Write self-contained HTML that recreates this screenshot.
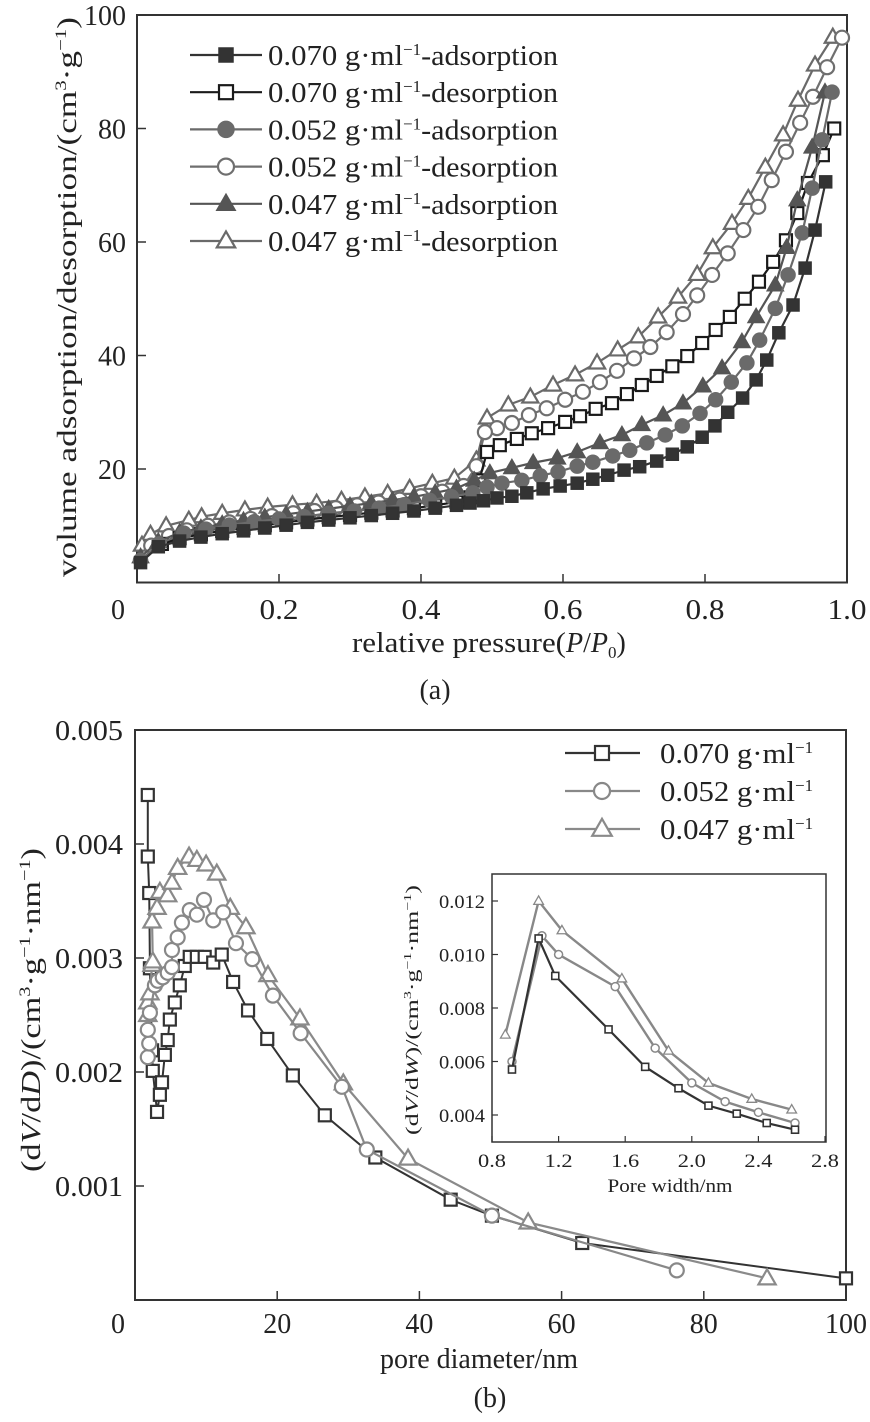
<!DOCTYPE html>
<html><head><meta charset="utf-8"><style>
html,body{margin:0;padding:0;background:#fff;}
svg{display:block;font-family:"Liberation Serif",serif;}
</style></head><body>
<svg id="s" width="870" height="1422" viewBox="0 0 870 1422" xmlns="http://www.w3.org/2000/svg"></svg>
<script>
// ---------- Chart (a) data ----------
const a1 = [[0.005,3.5],[0.03,6.3],[0.06,7.3],[0.09,8.0],[0.12,8.6],[0.15,9.1],[0.18,9.6],[0.21,10.1],[0.24,10.6],[0.27,11.0],[0.30,11.4],[0.33,11.8],[0.36,12.2],[0.39,12.6],[0.42,13.1],[0.45,13.6],[0.469,14.0],[0.488,14.4],[0.507,14.9],[0.528,15.2],[0.549,15.8],[0.572,16.5],[0.596,17.0],[0.62,17.5],[0.642,18.2],[0.663,18.9],[0.686,19.8],[0.708,20.4],[0.732,21.4],[0.754,22.6],[0.775,23.9],[0.796,25.6],[0.814,27.6],[0.832,30],[0.853,32.5],[0.872,35.7],[0.887,39.2],[0.904,44],[0.924,48.9],[0.941,55.4],[0.955,62.1],[0.97,70.6]];
const d1 = [[0.982,80],[0.966,75.3],[0.945,70.4],[0.93,65.1],[0.914,60.3],[0.896,56.5],[0.876,53],[0.856,50],[0.835,46.8],[0.815,44.5],[0.796,42.2],[0.775,39.9],[0.754,38.1],[0.732,36.4],[0.711,34.8],[0.69,33.2],[0.669,31.6],[0.646,30.6],[0.624,29.3],[0.603,28.3],[0.579,27.2],[0.556,26.3],[0.535,25.3],[0.511,24.2],[0.493,23.0],[0.482,18],[0.47,15],[0.45,14.2],[0.42,13.6],[0.39,13.1],[0.36,12.7],[0.33,12.3],[0.30,11.9],[0.27,11.5],[0.24,11.1],[0.21,10.6],[0.18,10.1],[0.15,9.6],[0.12,9.1],[0.09,8.5],[0.06,7.8],[0.035,6.8]];
const a2 = [[0.005,3.9],[0.031,6.8],[0.066,8.7],[0.097,9.4],[0.13,10.1],[0.165,10.7],[0.2,11.2],[0.235,11.6],[0.27,12.2],[0.306,12.6],[0.341,13.1],[0.376,13.7],[0.412,14.5],[0.443,15.1],[0.473,15.8],[0.493,16.8],[0.514,17.5],[0.542,18],[0.568,18.8],[0.593,19.5],[0.62,20.5],[0.642,21.2],[0.67,22.3],[0.694,23.3],[0.718,24.6],[0.744,26],[0.768,27.6],[0.793,29.8],[0.815,32.2],[0.837,35.3],[0.859,38.7],[0.877,42.7],[0.899,48.3],[0.917,54.2],[0.937,61.6],[0.951,69.5],[0.965,78],[0.979,86.4]];
const d2 = [[0.993,96],[0.972,90.8],[0.952,85.6],[0.934,81],[0.914,75.9],[0.894,70.9],[0.875,66.2],[0.854,62.1],[0.832,58],[0.81,54.2],[0.789,50.6],[0.769,47.3],[0.746,44.1],[0.723,41.5],[0.7,39.5],[0.676,37.3],[0.652,35.3],[0.628,33.6],[0.603,32.2],[0.577,30.7],[0.552,29.5],[0.528,28.1],[0.507,27.2],[0.49,26.5],[0.478,20.5],[0.46,17.0],[0.43,16.0],[0.40,15.2],[0.37,14.6],[0.34,14.1],[0.31,13.6],[0.28,13.1],[0.25,12.6],[0.22,12.2],[0.19,11.7],[0.16,11.2],[0.13,10.6],[0.10,10.0],[0.07,9.2],[0.045,8.2],[0.02,6.5]];
const a3 = [[0.005,4.5],[0.03,7.2],[0.06,8.8],[0.09,9.6],[0.12,10.3],[0.15,10.9],[0.18,11.5],[0.21,12.0],[0.24,12.5],[0.27,13.0],[0.30,13.5],[0.33,14.0],[0.36,14.5],[0.39,15.1],[0.42,15.8],[0.45,16.6],[0.475,18.0],[0.497,19.3],[0.528,20.2],[0.558,21.1],[0.592,21.9],[0.62,23],[0.652,24.6],[0.683,26],[0.711,27.8],[0.741,29.5],[0.769,31.6],[0.797,34.6],[0.824,37.8],[0.852,42.4],[0.872,46.8],[0.899,52.4],[0.915,59],[0.93,67.4],[0.951,76.7],[0.969,86.4]];
const d3 = [[0.98,96.1],[0.955,91.2],[0.931,85],[0.91,78.9],[0.885,73.2],[0.861,67.7],[0.838,63.3],[0.811,59],[0.789,54.3],[0.762,50.3],[0.734,46.8],[0.706,43.3],[0.677,41],[0.648,38.7],[0.617,36.6],[0.586,34.8],[0.554,32.7],[0.523,31.3],[0.493,29],[0.478,21.6],[0.447,18.4],[0.416,17.5],[0.384,16.6],[0.353,15.7],[0.321,15.1],[0.288,14.5],[0.253,14],[0.219,13.7],[0.184,13.3],[0.152,12.8],[0.12,12.2],[0.091,11.6],[0.073,11],[0.041,10],[0.019,8.5],[0.007,6.6]];
const aXTicks = [0.2,0.4,0.6,0.8,1.0];
const aXTickLabels = ["0.2","0.4","0.6","0.8","1.0"];
const aYTicks = [20,40,60,80,100];
const aLegendConc = ["0.070","0.070","0.052","0.052","0.047","0.047"];
const aLegendKind = ["adsorption","desorption","adsorption","desorption","adsorption","desorption"];

// ---------- Chart (b) data ----------
const bSq = [[1.8,0.00443],[1.8,0.00389],[2.0,0.00357],[2.1,0.00291],[2.4,0.00219],[2.5,0.00201],[3.1,0.00165],[3.5,0.0018],[3.8,0.00191],[4.2,0.00215],[4.6,0.00228],[4.9,0.00246],[5.6,0.00261],[6.3,0.00276],[7.0,0.00293],[7.7,0.00301],[8.7,0.00301],[9.8,0.00301],[11.0,0.00296],[12.2,0.00303],[13.8,0.00279],[15.9,0.00254],[18.6,0.00229],[22.2,0.00197],[26.7,0.00162],[33.8,0.00125],[44.4,0.00088],[50.2,0.00074],[62.9,0.0005],[100,0.00019]];
const bCi = [[1.8,0.00213],[2.0,0.00225],[1.8,0.00237],[2.1,0.00252],[2.8,0.00276],[3.2,0.0028],[3.9,0.00283],[4.6,0.00287],[5.2,0.00292],[5.2,0.00307],[6.0,0.00318],[6.6,0.00331],[7.7,0.00342],[8.7,0.00338],[9.7,0.00351],[11.0,0.00333],[12.4,0.0034],[14.2,0.00313],[16.5,0.00299],[19.4,0.00267],[23.3,0.00234],[29.1,0.00187],[32.6,0.00132],[50.2,0.00074],[76.2,0.00026]];
const bTr = [[1.8,0.0025],[1.8,0.00261],[2.1,0.00269],[2.4,0.00294],[2.5,0.00297],[2.4,0.00332],[3.1,0.00344],[3.5,0.00358],[4.6,0.00355],[5.2,0.00366],[6.0,0.00379],[7.6,0.00389],[8.7,0.00386],[10.0,0.00382],[11.5,0.00374],[13.4,0.00344],[15.6,0.00327],[18.7,0.00285],[23.2,0.00247],[29.3,0.0019],[38.4,0.00124],[55.3,0.00068],[88.9,0.00019]];
const bXTicks = [20,40,60,80,100];
const bYTicks = [0.001,0.002,0.003,0.004,0.005];
const bLegendConc = ["0.070","0.052","0.047"];

// ---------- Inset data ----------
const iSq = [[0.92,0.0057],[1.08,0.0106],[1.18,0.0092],[1.5,0.0072],[1.72,0.0058],[1.92,0.0050],[2.1,0.00435],[2.27,0.00405],[2.45,0.0037],[2.62,0.00345]];
const iCi = [[0.92,0.0060],[1.1,0.0107],[1.2,0.0100],[1.54,0.0088],[1.78,0.0065],[2.0,0.0052],[2.2,0.0045],[2.4,0.0041],[2.62,0.0037]];
const iTr = [[0.88,0.0070],[1.08,0.0120],[1.22,0.0109],[1.58,0.0091],[1.86,0.0064],[2.1,0.0052],[2.36,0.0046],[2.6,0.0042]];
const iXTicks = [0.8,1.2,1.6,2.0,2.4,2.8];
const iXTickLabels = ["0.8","1.2","1.6","2.0","2.4","2.8"];
const iYTicks = [0.004,0.006,0.008,0.010,0.012];
const iYTickLabels = ["0.004","0.006","0.008","0.010","0.012"];

const NS="http://www.w3.org/2000/svg";
const svg=document.getElementById('s');
function mk(tag,attrs,parent){const e=document.createElementNS(NS,tag);for(const k in attrs)e.setAttribute(k,attrs[k]);(parent||svg).appendChild(e);return e;}
function txt(x,y,s,size,anchor,parent,len){const t=mk('text',{x:x,y:y,'font-size':size,'text-anchor':anchor||'middle',fill:'#222'},parent);t.textContent=s;if(len){t.setAttribute('textLength',len);t.setAttribute('lengthAdjust','spacingAndGlyphs');}return t;}
function marker(g,shape,x,y,r,fill,stroke,sw){
  let e;
  if(shape==='sq') e=mk('rect',{x:x-r,y:y-r,width:2*r,height:2*r,fill:fill,stroke:stroke,'stroke-width':sw},g);
  else if(shape==='ci') e=mk('circle',{cx:x,cy:y,r:r,fill:fill,stroke:stroke,'stroke-width':sw},g);
  else e=mk('polygon',{points:`${x},${y-r*1.2} ${x-r*1.15},${y+r*0.8} ${x+r*1.15},${y+r*0.8}`,fill:fill,stroke:stroke,'stroke-width':sw},g);
  return e;
}
function series(name,data,sx,sy,shape,r,fill,stroke,sw,lw){
  const g=mk('g',{});
  
  
  mk('polyline',{points:data.map(d=>sx(d[0])+','+sy(d[1])).join(' '),fill:'none',stroke:stroke,'stroke-width':lw},g);
  data.forEach(d=>{const m=marker(g,shape,sx(d[0]),sy(d[1]),r,fill,stroke,sw);
    
    });
}
const SUP=(s,sz,dy)=>`<tspan font-size="${sz}" dy="-${dy}">${s}</tspan><tspan dy="${dy}">`;

// ===== Chart (a) =====
const ax=v=>137+v*710, ay=v=>582.5-v*5.675;
const fa=mk('rect',{x:137,y:15,width:710,height:567.5,fill:'none',stroke:'#333','stroke-width':2});


aXTicks.forEach((t,i)=>{mk('line',{x1:ax(t),y1:582.5,x2:ax(t),y2:574,stroke:'#333','stroke-width':1.5});
  const l=txt(ax(t),619,aXTickLabels[i],28,'middle',null,aXTickLabels[i].length*13);
  
  });
txt(118,619,"0",28);
aYTicks.forEach(t=>{mk('line',{x1:137,y1:ay(t),x2:146,y2:ay(t),stroke:'#333','stroke-width':1.5});
  const l=txt(126,ay(t)+10,String(t),28,'end',null,String(t).length*14);
  
  });
let t1=mk('text',{x:352,y:652,'font-size':28,fill:'#222'});
t1.innerHTML='<tspan textLength="214" lengthAdjust="spacingAndGlyphs">relative pressure(</tspan><tspan font-style="italic">P</tspan>/<tspan font-style="italic">P</tspan><tspan font-size="17" dy="6">0</tspan><tspan dy="-6">)</tspan>';

let t2=mk('text',{x:0,y:0,'font-size':27,fill:'#222','text-anchor':'middle',transform:'translate(76,297) rotate(-90)',textLength:560,lengthAdjust:'spacingAndGlyphs'});
t2.innerHTML='volume adsorption/desorption/(cm'+SUP('3',16,10)+'·g'+SUP('−1',16,10)+')</tspan></tspan>';

let c1=txt(435,699,"(a)",28);

const aStyles=[
 ['sq',6,'#333','#333',1.5,2.2],['sq',6,'#fff','#1a1a1a',2.2,2.2],
 ['ci',7,'#6a6a6a','#6a6a6a',1.5,2.2],['ci',7,'#fff','#6f6f6f',2.2,2.2],
 ['tr',7,'#555','#555',1.5,2.2],['tr',7,'#fff','#6a6a6a',2.2,2.2]];
const aData=[a1,d1,a2,d2,a3,d3];
const aNames=['series-070-adsorption','series-070-desorption','series-052-adsorption','series-052-desorption','series-047-adsorption','series-047-desorption'];
[5,3,1,4,2,0].forEach(i=>{const s=aStyles[i];series(aNames[i],aData[i],ax,ay,s[0],s[1],s[2],s[3],s[4],s[5]);});
aLegendConc.forEach((c,i)=>{const y=55+i*37.2;const s=aStyles[i];
  const g=mk('g',{});
  mk('line',{x1:190,y1:y,x2:262,y2:y,stroke:s[3],'stroke-width':2.2},g);
  marker(g,s[0],226,y,s[1]+1,s[2],s[3],s[4]);
  const t=mk('text',{x:268,y:y+10,'font-size':28,fill:'#222'},g);
  t.innerHTML=`<tspan textLength="135" lengthAdjust="spacingAndGlyphs">${c} g·ml</tspan><tspan font-size="17" dy="-10">−1</tspan><tspan dy="10" textLength="137" lengthAdjust="spacingAndGlyphs">-${aLegendKind[i]}</tspan>`;});

// ===== Chart (b) =====
const bx=v=>135+v*7.11, by=v=>1300-v*114000;
const fb=mk('rect',{x:135,y:730,width:711,height:570,fill:'none',stroke:'#333','stroke-width':2});

bXTicks.forEach(t=>{mk('line',{x1:bx(t),y1:1300,x2:bx(t),y2:1291,stroke:'#333','stroke-width':1.5});
  const l=txt(bx(t),1333,String(t),28,'middle',null,String(t).length*14);});
txt(118,1333,"0",28);
bYTicks.forEach(t=>{mk('line',{x1:135,y1:by(t),x2:144,y2:by(t),stroke:'#333','stroke-width':1.5});
  const l=txt(123,by(t)+10,t.toFixed(3),28,'end',null,68);});
let t3=txt(479,1368,"pore diameter/nm",28,'middle',null,198);
let t4=mk('text',{x:0,y:0,'font-size':27,fill:'#222','text-anchor':'middle',transform:'translate(40,1010) rotate(-90)',textLength:324,lengthAdjust:'spacingAndGlyphs'});
t4.innerHTML='(d<tspan font-style="italic">V</tspan>/d<tspan font-style="italic">D</tspan>)/(cm'+SUP('3',16,10)+'·g'+SUP('−1',16,10)+'·nm'+SUP('−1',16,10)+')</tspan></tspan></tspan>';

let c2=txt(490,1407,"(b)",28);

const bStyles=[['sq',6,'#fff','#333',2.2,2],['ci',7,'#fff','#888',2.2,2.2],['tr',7.5,'#fff','#8a8a8a',2.2,2.2]];
series('series-070-psd',bSq,bx,by,...bStyles[0]);
series('series-047-psd',bTr,bx,by,...bStyles[2]);
series('series-052-psd',bCi,bx,by,...bStyles[1]);
bLegendConc.forEach((c,i)=>{const y=753+i*38;const s=bStyles[i];
  const g=mk('g',{});
  mk('line',{x1:565,y1:y,x2:640,y2:y,stroke:s[3],'stroke-width':2.2},g);
  marker(g,s[0],602,y,s[1]+1,s[2],s[3],s[4]);
  const t=mk('text',{x:660,y:y+10,'font-size':28,fill:'#222'},g);
  t.innerHTML=`<tspan textLength="135" lengthAdjust="spacingAndGlyphs">${c} g·ml</tspan><tspan font-size="17" dy="-10">−1</tspan>`;});

// ===== Inset =====
const ix=v=>492+(v-0.8)*166.5, iy=v=>1115-(v-0.004)*26750;
const fi=mk('rect',{x:492,y:874,width:334,height:268,fill:'#fff',stroke:'#333','stroke-width':1.5});

iXTicks.forEach((t,i)=>{mk('line',{x1:ix(t),y1:1142,x2:ix(t),y2:1136,stroke:'#333','stroke-width':1.2});
  const l=txt(ix(t),1167,iXTickLabels[i],19,'middle',null,28);});
iYTicks.forEach((t,i)=>{mk('line',{x1:492,y1:iy(t),x2:498,y2:iy(t),stroke:'#333','stroke-width':1.2});
  const l=txt(485,iy(t)+7,iYTickLabels[i],19,'end',null,46);});
let t5=txt(670,1192,"Pore width/nm",19,'middle',null,125);
let t6=mk('text',{x:0,y:0,'font-size':18,fill:'#222','text-anchor':'middle',transform:'translate(418,1010) rotate(-90)',textLength:250,lengthAdjust:'spacingAndGlyphs'});
t6.innerHTML='(d<tspan font-style="italic">V</tspan>/d<tspan font-style="italic">W</tspan>)/(cm'+SUP('3',11,7)+'·g'+SUP('−1',11,7)+'·nm'+SUP('−1',11,7)+')</tspan></tspan></tspan>';

series('inset-047',iTr,ix,iy,'tr',4.2,'#fff','#888',1.3,2.4);
series('inset-052',iCi,ix,iy,'ci',4,'#fff','#888',1.5,2.4);
series('inset-070',iSq,ix,iy,'sq',3.5,'#fff','#333',1.6,2.2);
</script>
</body></html>
